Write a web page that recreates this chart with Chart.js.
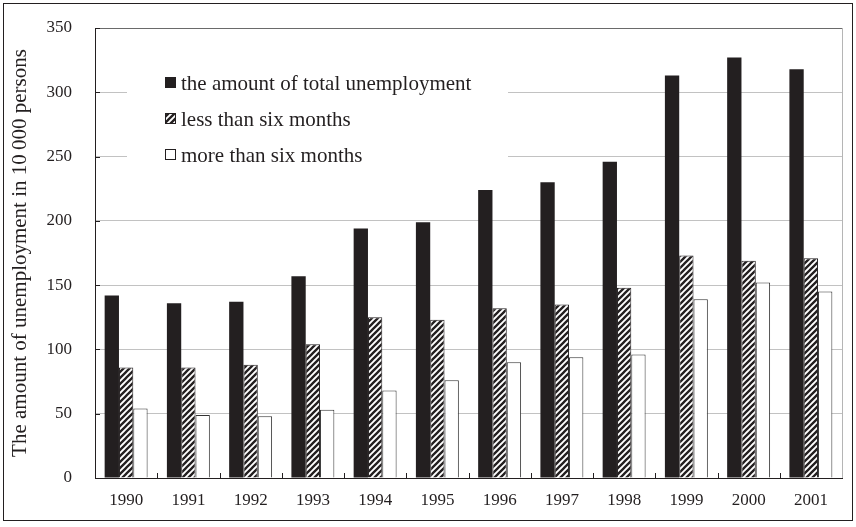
<!DOCTYPE html>
<html>
<head>
<meta charset="utf-8">
<script src="https://cdn.jsdelivr.net/npm/chart.js@4/dist/chart.umd.min.js"></script>
<style>
  html, body { margin: 0; padding: 0; background: #fff; }
  canvas { display: block; }
</style>
</head>
<body>
<canvas id="chart" width="856" height="527" style="width:856px;height:527px"></canvas>
<script>
// Unemployment (in 10 000 persons), 1990–2001
const years = ['1990', '1991', '1992', '1993', '1994', '1995', '1996', '1997', '1998', '1999', '2000', '2001'];
const totalUnemployment = [142, 136, 137, 157, 194, 199, 224, 230, 246, 313, 327, 318];
const underSixMonths = [86, 86, 88, 104, 125, 123, 132, 135, 148, 173, 169, 171];
const overSixMonths = [54, 49, 48, 53, 68, 76, 90, 94, 96, 139, 152, 145];
const seriesNames = ['the amount of total unemployment', 'less than six months', 'more than six months'];
const yMin = 0, yMax = 350, yStep = 50;
const yTitle = 'The amount of unemployment in 10\u2009000 persons';

const INK = '#231f20';
const SERIF = '"Liberation Serif", "Times New Roman", "DejaVu Serif", serif';

// diagonal hatch fill used for the "less than six months" bars
function makeHatch() {
  const size = 6;
  const c = document.createElement('canvas');
  c.width = size; c.height = size;
  const g = c.getContext('2d');
  g.fillStyle = '#fff';
  g.fillRect(0, 0, size, size);
  g.strokeStyle = INK;
  g.lineWidth = 2.3;
  g.beginPath();
  g.moveTo(-1, size + 1); g.lineTo(size + 1, -1);
  g.moveTo(-2, 2); g.lineTo(2, -2);
  g.moveTo(size - 2, size + 2); g.lineTo(size + 2, size - 2);
  g.stroke();
  return g.createPattern(c, 'repeat');
}
const hatch = makeHatch();

// frame, right border, inner tick marks and the in-plot legend
const decorations = {
  id: 'decorations',
  beforeDatasetsDraw(chart) {
    const { ctx, chartArea: a, data } = chart;
    ctx.save();
    // right edge of the plot
    ctx.strokeStyle = '#b5b5b5';
    ctx.lineWidth = 1;
    ctx.beginPath();
    ctx.moveTo(Math.round(a.right) + 0.5, a.top);
    ctx.lineTo(Math.round(a.right) + 0.5, a.bottom);
    ctx.stroke();

    // legend box (white, hides the gridlines behind it)
    const bx = a.left + 32, by = a.top + 30;
    ctx.fillStyle = '#fff';
    ctx.fillRect(bx, by, 381, 128);
    ctx.font = '21px ' + SERIF;
    ctx.textAlign = 'left';
    ctx.textBaseline = 'alphabetic';
    data.datasets.forEach((ds, i) => {
      const cy = a.top + 54.5 + i * 36;
      const sx = a.left + 70;
      ctx.fillStyle = ds.backgroundColor;
      ctx.fillRect(sx, cy - 5.5, 11, 11);
      ctx.strokeStyle = INK;
      ctx.lineWidth = 1;
      ctx.strokeRect(sx + 0.5, cy - 5, 10, 10);
      ctx.fillStyle = INK;
      ctx.fillText(ds.label, sx + 16, cy + 7.5);
    });
    ctx.restore();
  },
  afterDraw(chart) {
    const { ctx, chartArea: a, scales } = chart;
    ctx.save();
    ctx.strokeStyle = INK;
    ctx.lineWidth = 1;
    ctx.beginPath();
    // upward ticks between categories
    const xs = scales.x;
    for (let i = 1; i < years.length; i++) {
      const px = Math.round((xs.getPixelForTick(i - 1) + xs.getPixelForTick(i)) / 2) + 0.5;
      ctx.moveTo(px, a.bottom);
      ctx.lineTo(px, a.bottom - 5);
    }
    // inward ticks on the value axis
    const ys = scales.y;
    ys.ticks.forEach((t) => {
      const py = Math.round(ys.getPixelForValue(t.value)) + 0.5;
      ctx.moveTo(a.left, py);
      ctx.lineTo(a.left + 5, py);
    });
    ctx.stroke();
    // outer frame
    ctx.strokeRect(3.5, 3.5, chart.width - 7, chart.height - 10);
    ctx.restore();
  }
};

new Chart(document.getElementById('chart'), {
  type: 'bar',
  data: {
    labels: years,
    datasets: [
      { label: seriesNames[0], data: totalUnemployment, backgroundColor: INK, borderWidth: 0 },
      { label: seriesNames[1], data: underSixMonths, backgroundColor: hatch, borderColor: INK, borderWidth: 1 },
      { label: seriesNames[2], data: overSixMonths, backgroundColor: '#ffffff', borderColor: '#333', borderWidth: 1 }
    ]
  },
  options: {
    responsive: false,
    animation: false,
    devicePixelRatio: 1,
    layout: { padding: { left: 8, top: 28, right: 14, bottom: 0 } },
    datasets: { bar: { categoryPercentage: 0.69, barPercentage: 1.0 } },
    plugins: { legend: { display: false }, tooltip: { enabled: false } },
    scales: {
      x: {
        grid: { display: false, drawTicks: false },
        border: { display: true, color: INK, width: 1 },
        ticks: { color: INK, font: { family: SERIF, size: 17 }, padding: 12, maxRotation: 0 },
        afterFit(scale) { scale.height = 49; }
      },
      y: {
        min: yMin,
        max: yMax,
        grid: {
          drawTicks: true,
          tickLength: 20,
          tickColor: 'rgba(0,0,0,0)',
          color: (c) => (c.tick && c.tick.value === yMax ? '#6a6a6a' : '#c2c2c2'),
          lineWidth: 1
        },
        border: { display: true, color: INK, width: 1 },
        ticks: { stepSize: yStep, color: INK, font: { family: SERIF, size: 17 }, padding: 3 },
        title: {
          display: true,
          text: yTitle,
          color: INK,
          font: { family: SERIF, size: 21 },
          padding: { top: 0, bottom: 0 }
        },
        afterFit(scale) { scale.width = 87; }
      }
    }
  },
  plugins: [decorations]
});
</script>
</body>
</html>
